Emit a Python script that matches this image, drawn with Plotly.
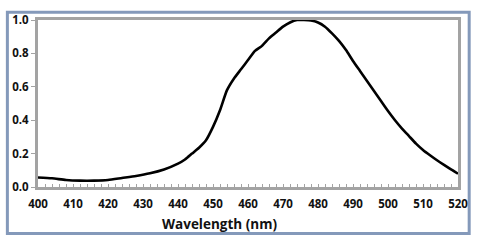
import plotly.graph_objects as go

wavelength = [400, 404, 408, 412, 416, 420, 424, 428, 432, 436, 440, 442, 444, 446, 448,
              450, 452, 454, 456, 458, 460, 462, 464, 466, 468, 470, 472, 474, 476, 478,
              480, 482, 484, 486, 488, 490, 492, 494, 496, 498, 500, 502, 504, 506, 508,
              510, 512, 514, 516, 518, 520]
intensity = [0.057, 0.052, 0.042, 0.038, 0.038, 0.042, 0.054, 0.066, 0.082, 0.105, 0.14,
             0.165, 0.2, 0.235, 0.28, 0.36, 0.46, 0.58, 0.65, 0.705, 0.76, 0.815, 0.845,
             0.89, 0.925, 0.96, 0.985, 1.0, 1.0, 0.997, 0.985, 0.96, 0.92, 0.875, 0.82,
             0.755, 0.695, 0.635, 0.575, 0.515, 0.455, 0.4, 0.35, 0.305, 0.26, 0.222,
             0.19, 0.16, 0.132, 0.105, 0.08]
x_ticks = [400, 410, 420, 430, 440, 450, 460, 470, 480, 490, 500, 510, 520]
y_ticks = [0.0, 0.2, 0.4, 0.6, 0.8, 1.0]
y_tick_text = ["0.0", "0.2", "0.4", "0.6", "0.8", "1.0"]
x_title = "Wavelength (nm)"

W, H = 480, 242
L, R, T, B = 33, 465, 13, 187

fig = go.Figure(go.Scatter(x=wavelength, y=intensity, mode="lines",
                           line=dict(color="black", width=2.6, shape="spline", smoothing=0.6),
                           hoverinfo="skip"))

def px(xp):
    return (xp - L) / (R - L)

def py(yp):
    return (B - yp) / (B - T)

fig.add_shape(type="rect", xref="paper", yref="paper",
              x0=px(1.5), x1=px(476.5), y0=py(235.5), y1=py(5),
              line=dict(color="#8499ba", width=3), fillcolor="rgba(0,0,0,0)", layer="below")

font = dict(family="'Open Sans', Lato, sans-serif", size=11.5, color="#111111", weight="bold")

fig.add_annotation(xref="paper", yref="paper", x=px(220), y=py(226),
                   xanchor="center", yanchor="middle", showarrow=False,
                   text=x_title, font=dict(font, size=13.5))

fig.update_layout(
    width=W, height=H,
    margin=dict(l=L, r=W - R, t=T, b=H - B),
    paper_bgcolor="white", plot_bgcolor="white",
    showlegend=False,
    xaxis=dict(range=[400, 520], tickvals=x_ticks, ticktext=[str(v) for v in x_ticks],
               showgrid=False, zeroline=False,
               showline=True, linecolor="#a3a3a3", linewidth=3, mirror=True,
               ticks="inside", ticklen=3, tickcolor="#a3a3a3", tickwidth=1,
               minor=dict(dtick=2, ticks="inside", ticklen=3, tickcolor="#a3a3a3", tickwidth=1),
               tickfont=font, ticklabelstandoff=4),
    yaxis=dict(range=[0, 1.0], tickvals=y_ticks, ticktext=y_tick_text,
               showgrid=False, zeroline=False,
               showline=True, linecolor="#a3a3a3", linewidth=3, mirror=True,
               ticks="outside", ticklen=4, tickcolor="#a3a3a3", tickwidth=1,
               tickfont=font),
)

fig.write_html("out.html")
